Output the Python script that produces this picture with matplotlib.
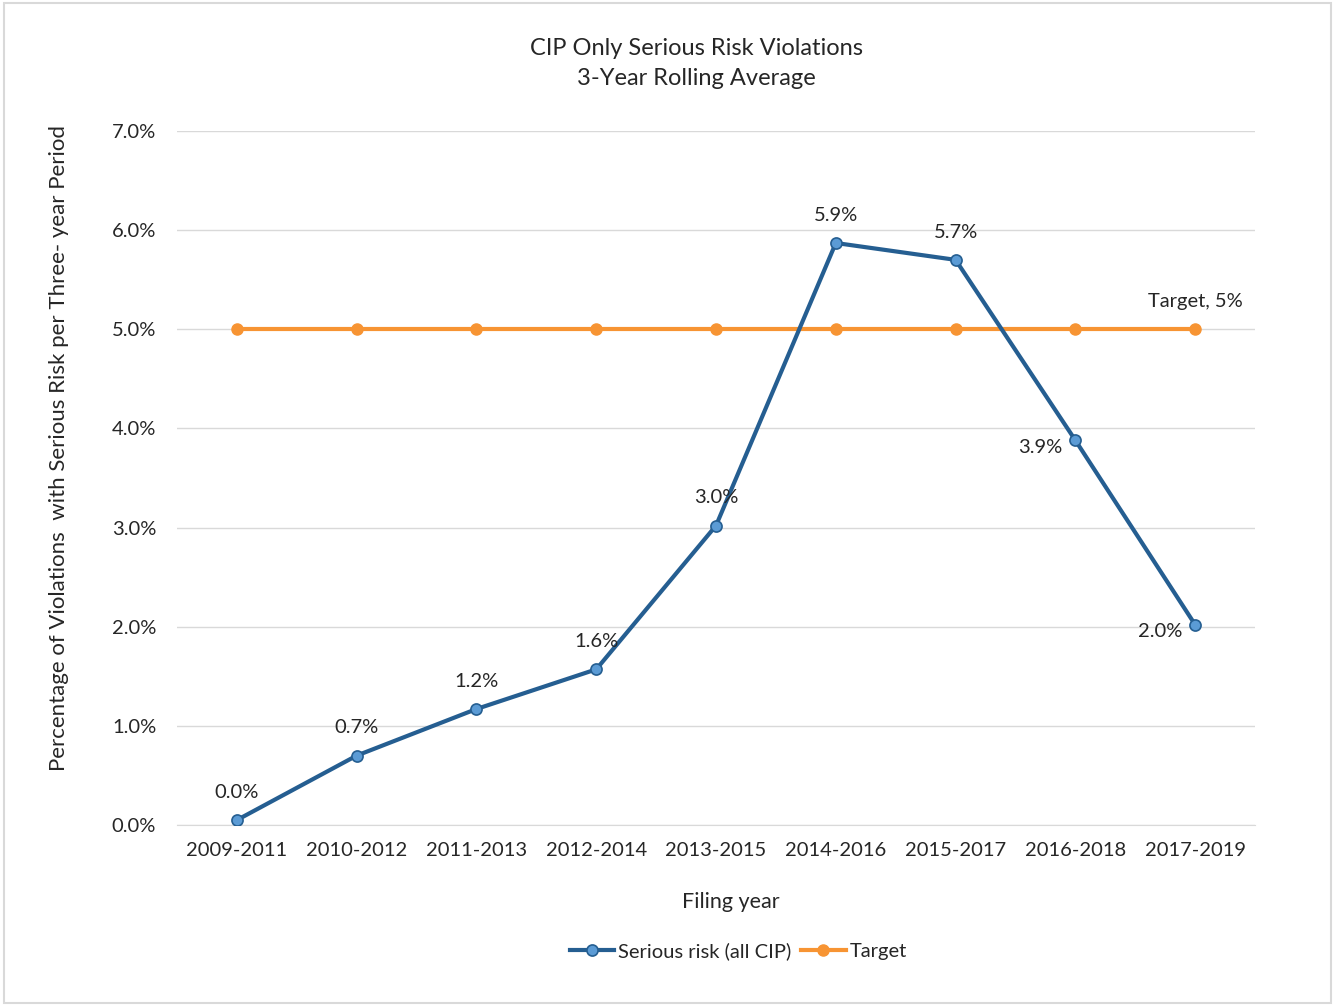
import matplotlib.pyplot as plt
from matplotlib.ticker import FuncFormatter
from matplotlib.patches import Rectangle

periods = ['2009-2011', '2010-2012', '2011-2013', '2012-2014', '2013-2015',
           '2014-2016', '2015-2017', '2016-2018', '2017-2019']
serious_risk = [0.05, 0.70, 1.17, 1.57, 3.02, 5.87, 5.70, 3.88, 2.02]
serious_labels = ['0.0%', '0.7%', '1.2%', '1.6%', '3.0%', '5.9%', '5.7%', '3.9%', '2.0%']
target = [5.0] * 9
y_ticks = [0, 1, 2, 3, 4, 5, 6, 7]


def main():
    plt.rcParams['font.family'] = ['Lato', 'DejaVu Sans']
    text_color = '#262626'
    fs = 14.5
    fig = plt.figure(figsize=(13.35, 10.05), dpi=100)
    ax = fig.add_axes([0.1326, 0.1791, 0.8075, 0.6906])

    x = list(range(len(periods)))
    ax.plot(x, serious_risk, color='#255E91', lw=3, marker='o', ms=8,
            mfc='#5B9BD5', mec='#255E91', mew=1.2, label='Serious risk (all CIP)', zorder=3)
    ax.plot(x, target, color='#F79433', lw=3, marker='o', ms=8,
            mfc='#F79433', mec='#F79433', label='Target', zorder=2)

    # data labels: above the point, except the last two which sit to the left
    for i, (v, lab) in enumerate(zip(serious_risk, serious_labels)):
        if i >= 7:
            ax.annotate(lab, (i, v), xytext=(-25, -5), textcoords='offset points',
                        ha='center', va='center', fontsize=fs, color=text_color)
        else:
            ax.annotate(lab, (i, v), xytext=(0, 20), textcoords='offset points',
                        ha='center', va='center', fontsize=fs, color=text_color)
    ax.annotate('Target, 5%', (x[-1], target[-1]), xytext=(0, 20), textcoords='offset points',
                ha='center', va='center', fontsize=fs, color=text_color)

    ax.set_xlim(-0.5, len(periods) - 0.5)
    ax.set_ylim(0, 7)
    ax.set_yticks(y_ticks)
    ax.yaxis.set_major_formatter(FuncFormatter(lambda v, pos: f'{v:.1f}%'))
    ax.set_xticks(x)
    ax.set_xticklabels(periods)
    ax.tick_params(axis='both', length=0, labelsize=fs, colors=text_color)
    ax.tick_params(axis='y', pad=15)
    ax.tick_params(axis='x', pad=12)
    ax.grid(axis='y', color='#D9D9D9', lw=1)
    ax.set_axisbelow(True)
    for side in ['top', 'right', 'left']:
        ax.spines[side].set_visible(False)
    ax.spines['bottom'].set_color('#D9D9D9')

    ax.set_xlabel('Filing year', fontsize=15.5, color=text_color, labelpad=18)
    ax.xaxis.set_label_coords(0.514, -0.096)
    ax.set_ylabel('Percentage of Violations  with Serious Risk per Three- year Period',
                  fontsize=16, color=text_color)
    ax.yaxis.set_label_coords(-0.100, 0.543)
    fig.text(0.522, 0.937, 'CIP Only Serious Risk Violations\n3-Year Rolling Average',
             ha='center', va='center', fontsize=17, color=text_color, linespacing=1.5)

    fig.legend(loc='center', bbox_to_anchor=(0.553, 0.054), ncol=2, frameon=False,
               fontsize=fs, handlelength=2.2, columnspacing=0.5, handletextpad=0.2,
               labelcolor=text_color)

    fig.patches.append(Rectangle((0.003, 0.002), 0.994, 0.995, transform=fig.transFigure,
                                 fill=False, ec='#D9D9D9', lw=1.5))

    fig.savefig('out.png', dpi=100)


if __name__ == '__main__':
    main()
